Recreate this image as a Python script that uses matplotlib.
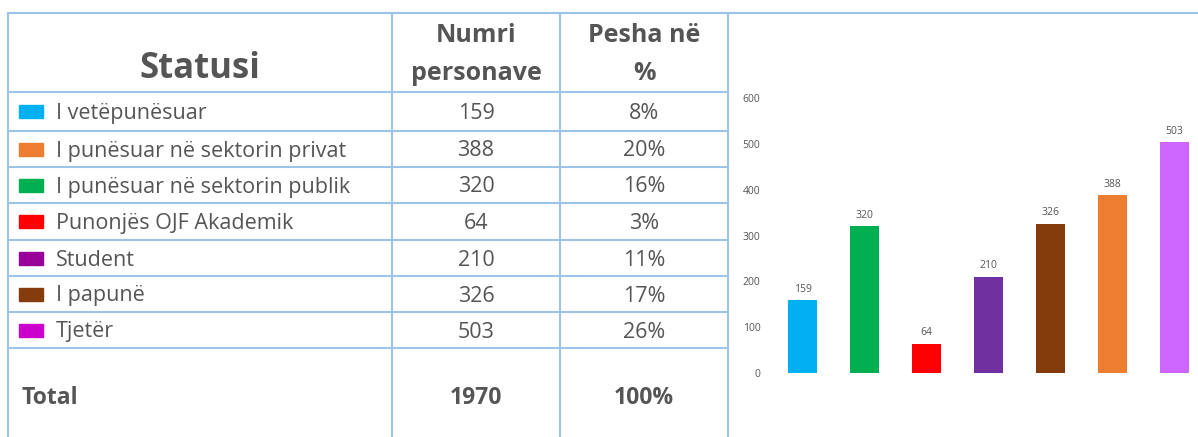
import matplotlib
matplotlib.use("Agg")
import matplotlib.pyplot as plt

plt.rcParams["font.family"] = ["Open Sans", "DejaVu Sans"]

# table data
statusi = [
    "I vetëpunësuar",
    "I punësuar në sektorin privat",
    "I punësuar në sektorin publik",
    "Punonjës OJF Akademik",
    "Student",
    "I papunë",
    "Tjetër",
]
numri = [159, 388, 320, 64, 210, 326, 503]
pesha = ["8%", "20%", "16%", "3%", "11%", "17%", "26%"]
legend_colors = ["#00B0F0", "#ED7D31", "#00B050", "#FF0000", "#990099", "#843C0C", "#CC00CC"]
total_numri = "1970"
total_pesha = "100%"

# bar chart data (order as drawn)
bar_values = [159, 320, 64, 210, 326, 388, 503]
bar_colors = ["#00B0F0", "#00B050", "#FF0000", "#7030A0", "#843C0C", "#ED7D31", "#CC66FF"]
y_ticks = [0, 100, 200, 300, 400, 500, 600]

W, H = 1198, 437
fig = plt.figure(figsize=(W / 100, H / 100), dpi=100)

# full-figure axes in pixel coordinates for the table
tab = fig.add_axes([0, 0, 1, 1])
tab.set_xlim(0, W)
tab.set_ylim(H, 0)
tab.axis("off")

grid = "#9DC3E6"
lw = 1.5
txt = "#555555"
col_x = [8, 392, 560, 728]
row_y = [13, 92, 131, 167, 203, 240, 276, 312, 348]

# borders
tab.plot([col_x[0], W], [13, 13], color=grid, lw=lw)
for x in col_x:
    tab.plot([x, x], [13, H], color=grid, lw=lw)
for y in row_y[1:]:
    tab.plot([col_x[0], col_x[3]], [y, y], color=grid, lw=lw)

# header
tab.text((col_x[0] + col_x[1]) / 2, 69, "Statusi", ha="center", va="center",
         fontsize=25, fontweight="bold", color=txt)
c2 = (col_x[1] + col_x[2]) / 2
c3 = (col_x[2] + col_x[3]) / 2
hs = 18
tab.text(c2, 36, "Numri", ha="center", va="center", fontsize=hs, fontweight="bold", color=txt)
tab.text(c2, 73, "personave", ha="center", va="center", fontsize=hs, fontweight="bold", color=txt)
tab.text(c3, 36, "Pesha në", ha="center", va="center", fontsize=hs, fontweight="bold", color=txt)
tab.text(c3, 73, "%", ha="center", va="center", fontsize=hs, fontweight="bold", color=txt)

# rows
bs = 15.5
for i in range(len(statusi)):
    yc = (row_y[i + 1] + row_y[i + 2]) / 2
    tab.add_patch(plt.Rectangle((19, yc - 6.5), 24, 13, color=legend_colors[i]))
    tab.text(56, yc + 2, statusi[i], ha="left", va="center", fontsize=bs, color=txt)
    tab.text(c2, yc + 2, str(numri[i]), ha="center", va="center", fontsize=bs, color=txt)
    tab.text(c3, yc + 2, pesha[i], ha="center", va="center", fontsize=bs, color=txt)

# total row
ts = 16.5
tab.text(22, 398, "Total", ha="left", va="center", fontsize=ts, fontweight="bold", color=txt)
tab.text(c2, 398, total_numri, ha="center", va="center", fontsize=ts, fontweight="bold", color=txt)
tab.text(c3, 398, total_pesha, ha="center", va="center", fontsize=ts, fontweight="bold", color=txt)

# bar chart axes: y=0 at px 373, y=600 at px 98; bar i centred at 802.5 + 62*i
left_px, right_px = 770, W
x0 = (left_px - 802.5) / 62
x1 = (right_px - 802.5) / 62
ax = fig.add_axes([left_px / W, 1 - 373 / H, (right_px - left_px) / W, (373 - 98) / H])
xs = list(range(len(bar_values)))
bars = ax.bar(xs, bar_values, width=0.47, color=bar_colors)
for b, v in zip(bars, bar_values):
    ax.text(b.get_x() + b.get_width() / 2, v + 12, str(v), ha="center", va="bottom",
            fontsize=7.5, color=txt)
ax.set_xlim(x0, x1)
ax.set_ylim(0, 600)
ax.set_yticks(y_ticks)
ax.set_xticks([])
ax.tick_params(axis="y", length=0, labelsize=7.5, labelcolor=txt, pad=7)
for s in ax.spines.values():
    s.set_visible(False)
ax.patch.set_alpha(0)

fig.savefig("out.png", dpi=100)
